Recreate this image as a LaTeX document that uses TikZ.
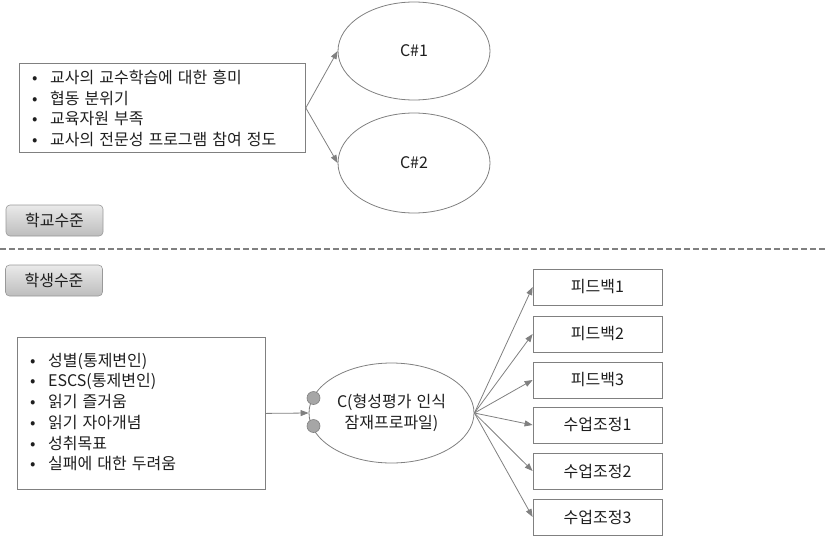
\documentclass[tikz,border=0pt]{standalone}
\usepackage{fontspec}
\setmainfont[WordSpace=1.4]{Noto Sans CJK KR}
\usetikzlibrary{shapes.geometric,arrows.meta}
\definecolor{linegray}{HTML}{808080}
\definecolor{txt}{HTML}{1E1E1E}
\definecolor{btntop}{HTML}{EAEAEA}
\definecolor{btnbot}{HTML}{BDBDBD}
\definecolor{dotfill}{HTML}{A6A6A6}
\tikzset{
  every node/.style={text=txt, font=\fontsize{16}{20.7}\selectfont},
  listbox/.style={draw=linegray, line width=0.8pt, rectangle, inner sep=0pt, anchor=north west},
  listtext/.style={anchor=west, align=left, inner sep=0pt},
  oval/.style={draw=linegray, line width=0.8pt, ellipse, inner sep=0pt, align=center},
  outbox/.style={draw=linegray, line width=0.8pt, rectangle, inner sep=0pt, minimum width=129pt, minimum height=36pt},
  levelbtn/.style={draw=linegray!80, line width=0.6pt, rounded corners=4pt, top color=btntop, bottom color=btnbot, inner sep=0pt, minimum width=97pt, minimum height=31pt},
  conn/.style={draw=linegray, line width=0.8pt, -{Triangle[length=8pt,width=6pt]}},
  dotc/.style={circle, draw=linegray, fill=dotfill, line width=0.6pt, minimum size=13pt, inner sep=0pt}
}
\newcommand{\bl}{\makebox[18pt][l]{•}}
\begin{document}
\begin{tikzpicture}[x=1pt,y=-1pt]
\path[use as bounding box] (0,0) rectangle (827,536);

% top section
\node[listbox, minimum width=286pt, minimum height=89pt] (topbox) at (19,63) {};
\node[listtext] (toptext) at (32,108.5) {\bl 교사의 교수학습에 대한 흥미\\ \bl 협동 분위기\\ \bl 교육자원 부족\\ \bl 교사의 전문성 프로그램 참여 정도};
\node[oval, minimum width=152pt, minimum height=98pt] (c1) at (414,51) {C\#1};
\node[oval, minimum width=152pt, minimum height=100pt] (c2) at (414,163) {C\#2};
\draw[conn] (topbox.east) -- (c1.west);
\draw[conn] (topbox.east) -- (c2.west);

\node[levelbtn] (school) at (54.5,220.5) {학교수준};

% divider
\coordinate (dl) at (0,249);
\coordinate (dr) at (827,249);
\draw[linegray, line width=1.1pt, dash pattern=on 6pt off 3pt] (dl) -- (dr);

\node[levelbtn] (student) at (54,280.5) {학생수준};

% bottom section
\node[listbox, minimum width=248pt, minimum height=152pt] (botbox) at (17,337) {};
\node[listtext] (bottext) at (30,412) {\bl 성별(통제변인)\\ \bl ESCS(통제변인)\\ \bl 읽기 즐거움\\ \bl 읽기 자아개념\\ \bl 성취목표\\ \bl 실패에 대한 두려움};
\node[oval, minimum width=165pt, minimum height=100pt] (c) at (391.5,413) {C(형성평가 인식\\잠재프로파일)};
\draw[conn] (botbox.east) -- (c.west);
\node[dotc] (d1) at (313.5,398) {};
\node[dotc] (d2) at (313.5,426) {};

\node[outbox] (o1) at (597.5,287) {피드백1};
\node[outbox] (o2) at (597.5,334) {피드백2};
\node[outbox] (o3) at (597.5,380) {피드백3};
\node[outbox] (o4) at (597.5,425) {수업조정1};
\node[outbox] (o5) at (597.5,471) {수업조정2};
\node[outbox] (o6) at (597.5,517) {수업조정3};
\foreach \o in {o1,o2,o3,o4,o5,o6}{\draw[conn] (c.east) -- (\o.west);}
\end{tikzpicture}
\end{document}
